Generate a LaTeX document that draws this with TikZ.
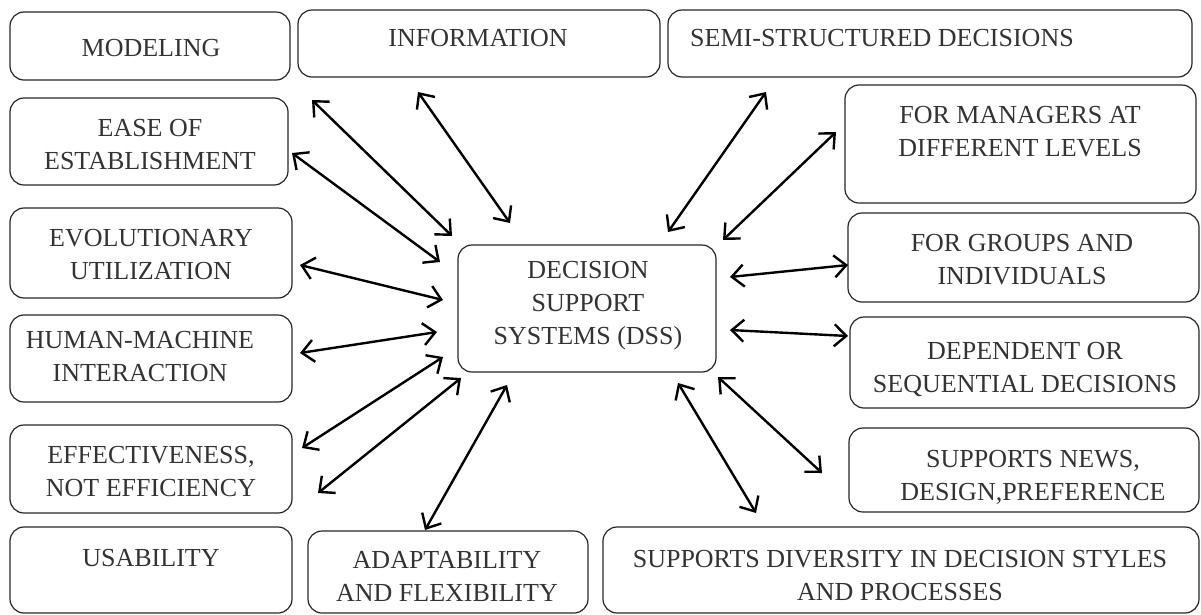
\documentclass[tikz,border=0pt]{standalone}
\usepackage{fontspec}
\setmainfont{Liberation Serif}
\usetikzlibrary{arrows.meta}
\newcommand\dbox[5]{\node[bx,minimum width={#4-#2},minimum height={#5-#3}] (#1) at (#2,#3) {};}
\begin{document}
\begin{tikzpicture}[x=1pt,y=-1pt,
  bx/.style={draw=black!85,line width=1.2pt,rounded corners=14pt,anchor=north west,inner sep=0pt,outer sep=0pt},
  txt/.style={font=\fontsize{26}{33}\selectfont,align=center,text=black!80,inner sep=0pt},
  link/.style={line width=2.4pt,{Straight Barb[length=12pt,width=22pt]}-{Straight Barb[length=12pt,width=22pt]}}]
\useasboundingbox (0,0) rectangle (1201,614);
% boxes
\dbox{mod}{10}{12}{290}{80}
\dbox{inf}{298}{10}{660}{77}
\dbox{semi}{668}{10}{1192}{77}
\dbox{ease}{10}{98}{288}{185}
\dbox{man}{845}{85}{1196}{203}
\dbox{evo}{10}{208}{292}{298}
\dbox{grp}{848}{213}{1199}{302}
\dbox{dss}{458}{245}{716}{372}
\dbox{hum}{10}{315}{292}{402}
\dbox{dep}{850}{317}{1199}{408}
\dbox{eff}{10}{425}{292}{513}
\dbox{news}{849}{428}{1199}{512}
\dbox{usa}{10}{527}{292}{613}
\dbox{ada}{308}{531}{588}{613}
\dbox{div}{603}{527}{1199}{613}
% texts
\node[txt] (tmod) at (151,48) {MODELING};
\node[txt] (tinf) at (478,38) {INFORMATION};
\node[txt] (tsemi) at (882,38) {SEMI-STRUCTURED DECISIONS};
\node[txt] (tease) at (150,145) {EASE OF\\ESTABLISHMENT};
\node[txt] (tman) at (1020,132) {FOR MANAGERS AT\\DIFFERENT LEVELS};
\node[txt] (tevo) at (151,255) {EVOLUTIONARY\\UTILIZATION};
\node[txt] (tgrp) at (1022,260) {FOR GROUPS AND\\INDIVIDUALS};
\node[txt] (tdss) at (588,306) {DECISION\\SUPPORT\\SYSTEMS (DSS)};
\node[txt] (thum) at (140,357) {HUMAN-MACHINE\\INTERACTION};
\node[txt] (tdep) at (1025,369) {DEPENDENT OR\\SEQUENTIAL DECISIONS};
\node[txt] (teff) at (151,472) {EFFECTIVENESS,\\NOT EFFICIENCY};
\node[txt] (tnews) at (1033,477) {SUPPORTS NEWS,\\DESIGN,PREFERENCE};
\node[txt] (tusa) at (151,558) {USABILITY};
\node[txt] (tada) at (447,576) {ADAPTABILITY\\AND FLEXIBILITY};
\node[txt] (tdiv) at (900,576) {SUPPORTS DIVERSITY IN DECISION STYLES\\AND PROCESSES};
% arrow end points
\coordinate (a1s) at (312,100);  \coordinate (a1e) at (452,236);
\coordinate (a2s) at (292,153);  \coordinate (a2e) at (440,262);
\coordinate (a3s) at (418,92);   \coordinate (a3e) at (510,223);
\coordinate (a4s) at (300,265);  \coordinate (a4e) at (443,300);
\coordinate (a5s) at (300,353);  \coordinate (a5e) at (437,332);
\coordinate (a6s) at (302,448);  \coordinate (a6e) at (443,357);
\coordinate (a7s) at (318,493);  \coordinate (a7e) at (461,378);
\coordinate (a8s) at (425,530);  \coordinate (a8e) at (507,385);
\coordinate (a9s) at (766,92);   \coordinate (a9e) at (668,232);
\coordinate (a10s) at (836,132); \coordinate (a10e) at (723,240);
\coordinate (a11s) at (848,265); \coordinate (a11e) at (730,277);
\coordinate (a12s) at (848,336); \coordinate (a12e) at (730,330);
\coordinate (a13s) at (822,473); \coordinate (a13e) at (718,377);
\coordinate (a14s) at (756,513); \coordinate (a14e) at (678,383);
\foreach \i in {1,...,14}{\draw[link] (a\i s) -- (a\i e);}
\end{tikzpicture}
\end{document}
